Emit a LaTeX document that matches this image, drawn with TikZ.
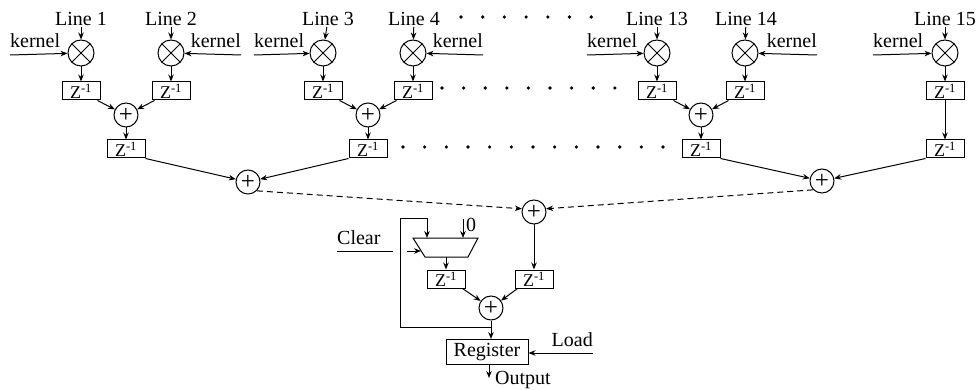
\documentclass[tikz,border=0pt]{standalone}
\usepackage{fontspec}
\setmainfont{Liberation Serif}
\usetikzlibrary{arrows.meta,positioning}
\tikzstyle{line}=[black,line width=1pt]
\tikzstyle{arrow}=[line,-{Stealth[length=7pt,width=5.5pt]}]
\tikzstyle{delay}=[draw,line width=1pt,minimum width=38pt,minimum height=18pt,inner sep=0pt,font=\fontsize{18}{18}\selectfont]
\tikzstyle{adder}=[draw,circle,line width=1pt,minimum size=24pt,inner sep=0pt,font=\fontsize{25}{25}\selectfont]
\tikzstyle{mult}=[draw,circle,line width=1pt,minimum size=26pt,inner sep=0pt,
path picture={\draw[line] (path picture bounding box.north west) -- (path picture bounding box.south east)
 (path picture bounding box.north east) -- (path picture bounding box.south west);}]
\tikzstyle{txt}=[inner sep=1pt]
\newcommand{\zinv}{Z\textsuperscript{-1}}

\begin{document}
\begin{tikzpicture}[x=1pt,y=-1pt,font=\fontsize{20}{22}\selectfont]
	\useasboundingbox (0,0) rectangle (977,390);

	% inputs
	\node[txt] (l1) at (81,19) {Line 1};
	\node[txt] (l2) at (171,19) {Line 2};
	\node[txt] (l3) at (328,19) {Line 3};
	\node[txt] (l4) at (414,19) {Line 4};
	\node[txt] (l13) at (657,19) {Line 13};
	\node[txt] (l14) at (746,19) {Line 14};
	\node[txt] (l15) at (945,19) {Line 15};

	\node[mult] (m1) at (81,53) {};
	\node[mult] (m2) at (171,53) {};
	\node[mult] (m3) at (323,53) {};
	\node[mult] (m4) at (413,53) {};
	\node[mult] (m13) at (657,53) {};
	\node[mult] (m14) at (745,53) {};
	\node[mult] (m15) at (945,53) {};

	\coordinate (k1) at (10,55);
	\coordinate (k2) at (241,55);
	\coordinate (k3) at (254,55);
	\coordinate (k4) at (483,55);
	\coordinate (k13) at (587,55);
	\coordinate (k14) at (817,55);
	\coordinate (k15) at (873,55);
	\node[txt,inner sep=0pt,above right=7pt and 0pt of k1] (kt1) {kernel};
	\node[txt,inner sep=0pt,above left=7pt and 0pt of k2] (kt2) {kernel};
	\node[txt,inner sep=0pt,above right=7pt and 0pt of k3] (kt3) {kernel};
	\node[txt,inner sep=0pt,above left=7pt and 0pt of k4] (kt4) {kernel};
	\node[txt,inner sep=0pt,above right=7pt and 0pt of k13] (kt13) {kernel};
	\node[txt,inner sep=0pt,above left=7pt and 0pt of k14] (kt14) {kernel};
	\node[txt,inner sep=0pt,above right=7pt and 0pt of k15] (kt15) {kernel};

	% first delays and adders
	\node[delay] (d1) at (81,91) {\zinv};
	\node[delay] (d2) at (171,91) {\zinv};
	\node[delay] (d3) at (323,91) {\zinv};
	\node[delay] (d4) at (413,91) {\zinv};
	\node[delay] (d13) at (657,91) {\zinv};
	\node[delay] (d14) at (745,91) {\zinv};
	\node[delay] (d15) at (945,91) {\zinv};

	\node[adder] (a1) at (126,115) {+};
	\node[adder] (a2) at (368,115) {+};
	\node[adder] (a3) at (701,115) {+};

	\node[delay] (e1) at (126,149) {\zinv};
	\node[delay] (e2) at (368,149) {\zinv};
	\node[delay] (e3) at (701,149) {\zinv};
	\node[delay] (e4) at (945,149) {\zinv};

	\node[adder] (s1) at (248,182) {+};
	\node[adder] (s2) at (822,181) {+};
	\node[adder] (c) at (534,212) {+};

	\foreach \n in {1,2,3,4,13,14,15}{
		\draw[arrow] (l\n) -- (m\n);
		\draw[arrow] (k\n) -- (m\n);
		\draw[arrow] (m\n) -- (d\n);
	}
	\draw[arrow] (d1.-30) -- (a1);
	\draw[arrow] (d2.-150) -- (a1);
	\draw[arrow] (d3.-30) -- (a2);
	\draw[arrow] (d4.-150) -- (a2);
	\draw[arrow] (d13.-30) -- (a3);
	\draw[arrow] (d14.-150) -- (a3);
	\draw[arrow] (a1) -- (e1);
	\draw[arrow] (a2) -- (e2);
	\draw[arrow] (a3) -- (e3);
	\draw[arrow] (d15) -- (e4);
	\draw[arrow] (e1.south east) -- (s1);
	\draw[arrow] (e2.south west) -- (s1);
	\draw[arrow] (e3.south east) -- (s2);
	\draw[arrow] (e4.south west) -- (s2);
	\draw[arrow,dash pattern=on 6pt off 4pt] (s1.south east) -- (c.165);
	\draw[arrow,dash pattern=on 6pt off 4pt] (s2.south west) -- (c.15);

	%dots
	\foreach \i in {0,...,6} \fill (461+21.7*\i,17) circle (1.8pt);
	\foreach \i in {0,...,8} \fill (442+21.6*\i,88) circle (1.8pt);
	\foreach \i in {0,...,12} \fill (403+21.67*\i,147) circle (1.8pt);

	% accumulator
	\draw[line] (413,238) -- (478,238) -- (468,257) -- (425,257) -- cycle;
	\coordinate (mux1) at (427,238);
	\coordinate (mux0) at (463,238);
	\coordinate (muxs) at (421,251);
	\coordinate (muxo) at (446,257);

	\node[delay] (dl) at (446,279) {\zinv};
	\node[delay] (dr) at (534,279) {\zinv};
	\node[adder] (b) at (491,308) {+};
	\node[draw,line width=1pt,minimum width=82pt,minimum height=25pt,inner sep=0pt] (reg) at (487,352) {Register};

	\coordinate (zero) at (463,219);
	\coordinate (fb) at (491,327);
	\coordinate (fbl) at (400,219);
	\coordinate (clr) at (337,251);
	\coordinate (ld) at (593,353);
	\coordinate (out) at (489,378);

	\draw[arrow] (zero) -- (mux0);
	\node[txt,anchor=west] (zt) at (465,225) {0};
	\node[txt,inner sep=0pt,above right=6pt and 0pt of clr] (clt) {Clear};
	\draw[line] (clr) -- ([xshift=-7pt]fbl |- muxs);
	\draw[arrow] ([xshift=7pt]fbl |- muxs) -- (muxs);
	\draw[arrow] (fb) -| (fbl) -| (mux1);

	\draw[arrow] (c) -- (dr);
	\draw[arrow] (muxo) -- (dl);
	\draw[arrow] (dl.-30) -- (b);
	\draw[arrow] (dr.-150) -- (b);
	\draw[arrow] (b) -- (b |- reg.north);

	\node[txt,inner sep=0pt,above left=6pt and 0pt of ld] (ldt) {Load};
	\draw[arrow] (ld) -- (reg.east |- ld);
	\draw[arrow] (out |- reg.south) -- (out);
	\node[txt,anchor=base west] (outt) at (494,384) {Output};
\end{tikzpicture}
\end{document}
